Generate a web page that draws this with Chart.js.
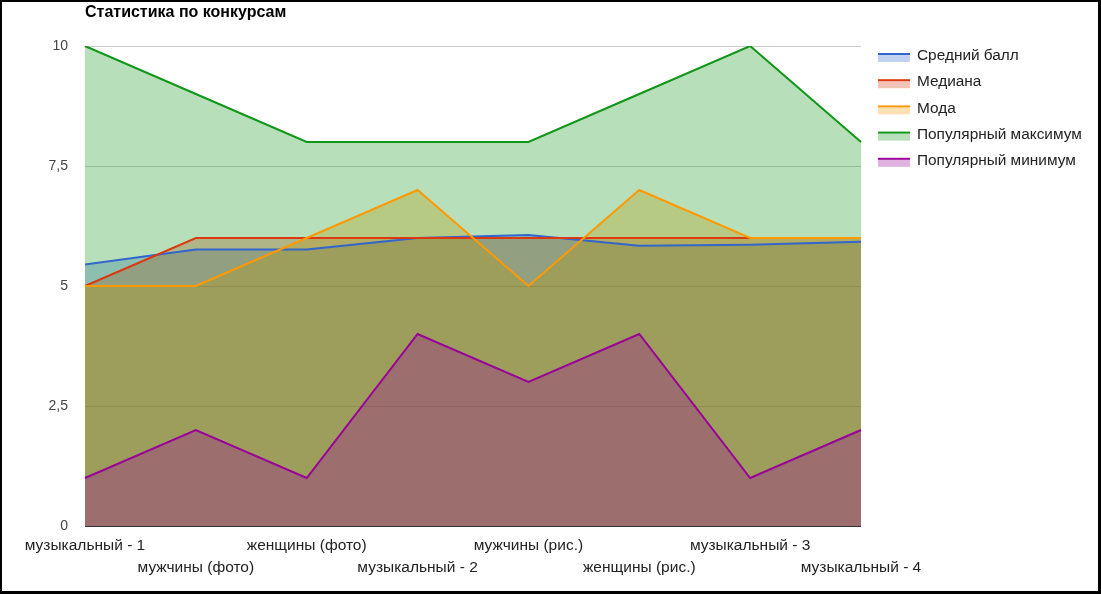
<!DOCTYPE html>
<html>
<head>
<meta charset="utf-8">
<script src="https://cdn.jsdelivr.net/npm/chart.js@4/dist/chart.umd.min.js"></script>
<style>
  html, body { margin: 0; padding: 0; background: #fff; }
  #frame {
    position: absolute; left: 0; top: 0;
    width: 1101px; height: 594px; box-sizing: border-box;
    border-style: solid; border-color: #000;
    border-width: 2px 3px 3px 2px;
  }
  #wrap { position: relative; width: 1096px; height: 589px; }
</style>
</head>
<body>
<div id="frame"><div id="wrap"><canvas id="chart"></canvas></div></div>
<script>
const categories = ['музыкальный - 1', 'мужчины (фото)', 'женщины (фото)', 'музыкальный - 2',
  'мужчины (рис.)', 'женщины (рис.)', 'музыкальный - 3', 'музыкальный - 4'];
const seriesNames = ['Средний балл', 'Медиана', 'Мода', 'Популярный максимум', 'Популярный минимум'];
const meanScore = [5.45, 5.76, 5.76, 6.0, 6.06, 5.84, 5.86, 5.92];
const median = [5, 6, 6, 6, 6, 6, 6, 6];
const mode = [5, 5, 6, 7, 5, 7, 6, 6];
const popularMax = [10, 9, 8, 8, 8, 9, 10, 8];
const popularMin = [1, 2, 1, 4, 3, 4, 1, 2];
const yTicks = [0, 2.5, 5, 7.5, 10];
const chartTitle = 'Статистика по конкурсам';

const colors = ['#3366cc', '#dc3912', '#ff9900', '#109618', '#990099'];
const values = [meanScore, median, mode, popularMax, popularMin];

function fade(hex, a) {
  const n = parseInt(hex.slice(1), 16);
  return 'rgba(' + (n >> 16) + ',' + ((n >> 8) & 255) + ',' + (n & 255) + ',' + a + ')';
}

const datasets = values.map(function(v, i) {
  return {
    label: seriesNames[i],
    data: v,
    borderColor: colors[i],
    backgroundColor: fade(colors[i], 0.3),
    borderWidth: 2,
    fill: 'origin',
    pointRadius: 0,
    tension: 0,
    order: values.length - 1 - i, // later series on top, like the original
  };
});

const font = "'Liberation Sans', Arial, sans-serif";

// title and legend drawn by hand so they sit where the original has them
const decor = {
  id: 'decor',
  afterDraw(chart) {
    const ctx = chart.ctx;
    const area = chart.chartArea;
    ctx.save();
    ctx.fillStyle = '#000';
    ctx.font = 'bold 16px ' + font;
    ctx.textBaseline = 'middle';
    ctx.textAlign = 'left';
    ctx.fillText(chartTitle, area.left, 11);

    ctx.font = '15.4px ' + font;
    const x0 = area.right + 17;
    seriesNames.forEach(function(name, i) {
      const y = 52 + i * 26.2;
      ctx.fillStyle = fade(colors[i], 0.3);
      ctx.fillRect(x0, y + 1, 32, 7);
      ctx.fillStyle = colors[i];
      ctx.fillRect(x0, y - 1, 32, 2);
      ctx.fillStyle = '#222';
      ctx.fillText(name, x0 + 39, y + 2);
    });
    ctx.restore();
  }
};

new Chart(document.getElementById('chart'), {
  type: 'line',
  data: { labels: categories, datasets: datasets },
  plugins: [decor],
  options: {
    responsive: true,
    maintainAspectRatio: false,
    devicePixelRatio: 1,
    animation: false,
    layout: { padding: { top: 44, right: 237, left: 0, bottom: 0 } },
    plugins: {
      legend: { display: false },
      title: { display: false },
      tooltip: { enabled: false },
      filler: { drawTime: 'beforeDatasetsDraw' },
    },
    scales: {
      x: {
        offset: false,
        grid: { display: false, drawTicks: false },
        border: { display: false },
        afterFit: function(s) { s.height = 65; },
        ticks: {
          autoSkip: false,
          maxRotation: 0,
          padding: 9,
          color: '#222',
          font: { family: font, size: 15.5, lineHeight: 1.42 },
          callback: function(v, i) {
            const t = categories[i];
            return i % 2 ? ['', t] : [t, ''];
          },
        },
      },
      y: {
        min: 0,
        max: 10,
        afterBuildTicks: function(s) { s.ticks = yTicks.map(function(v) { return { value: v }; }); },
        afterFit: function(s) { s.width = 83; },
        grid: {
          drawTicks: false,
          color: function(c) { return c.tick && c.tick.value === 0 ? '#333' : '#ccc'; },
        },
        border: { display: false },
        ticks: {
          padding: 17,
          color: '#444',
          font: { family: font, size: 14 },
          callback: function(v) { return String(v).replace('.', ','); },
        },
      },
    },
  },
});
</script>
</body>
</html>
